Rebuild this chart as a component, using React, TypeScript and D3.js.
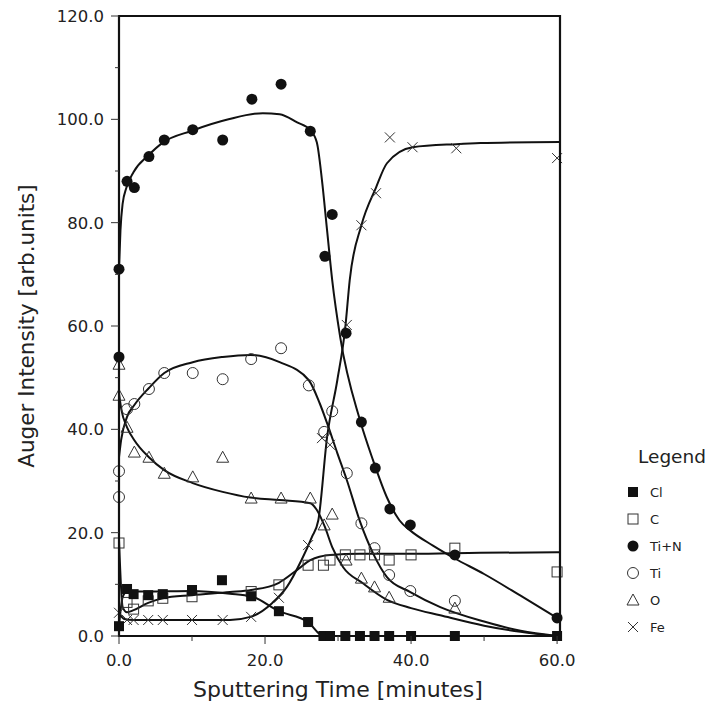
import React from 'react'
import * as d3 from 'd3'

// measured points [minutes, intensity]
const clPoints = [[0, 1.9], [1.1, 9.1], [2, 8.1], [4, 7.9], [6, 8.1], [10, 8.9], [14.1, 10.8], [18.1, 7.7], [21.9, 4.8], [25.9, 2.7], [28, 0], [28.9, 0], [31, 0], [33, 0], [35, 0], [37, 0], [40, 0], [46, 0], [60, 0]]
const cPoints = [[0, 18], [1.1, 6.5], [2, 5.2], [4, 6.8], [6, 7.3], [10, 7.6], [18.1, 8.6], [21.9, 9.9], [25.9, 13.7], [28, 13.7], [28.9, 14.7], [31, 15.7], [33, 15.7], [35, 15.7], [37, 14.7], [40, 15.7], [46, 17], [60, 12.4]]
const tinPoints = [[0, 71], [0, 54], [1.1, 88], [2.1, 86.8], [4.1, 92.8], [6.2, 96], [10.1, 98], [14.2, 96], [18.2, 103.9], [22.2, 106.8], [26.2, 97.7], [28.2, 73.5], [29.2, 81.6], [31.1, 58.6], [33.2, 41.4], [35.1, 32.5], [37.1, 24.6], [39.9, 21.5], [46, 15.7], [60, 3.5]]
const tiPoints = [[0, 31.9], [0, 26.9], [1.1, 43.9], [2.1, 44.9], [4.1, 47.8], [6.2, 50.9], [10.1, 50.9], [14.2, 49.7], [18.1, 53.6], [22.2, 55.7], [26, 48.5], [28.1, 39.5], [29.2, 43.5], [31.2, 31.5], [33.2, 21.8], [35, 17], [37, 11.8], [39.9, 8.7], [46, 6.8]]
const oPoints = [[0, 52.6], [0, 46.6], [1.1, 40.4], [2.1, 35.6], [4.1, 34.6], [6.2, 31.5], [10.1, 30.8], [14.2, 34.6], [18.1, 26.7], [22.2, 26.7], [26.2, 26.7], [28.1, 21.5], [29.2, 23.6], [31.1, 14.7], [33.2, 11.2], [35, 9.5], [37, 7.5], [46, 5.4]]
const fePoints = [[0, 4.5], [1.1, 3.1], [2, 3.1], [4, 3.1], [6, 3.1], [10, 3.1], [14.2, 3.1], [18.1, 3.7], [21.9, 7.4], [25.9, 17.6], [27.8, 38.3], [28.9, 37], [31.2, 60.2], [33.2, 79.5], [35.2, 85.7], [37.1, 96.5], [40.2, 94.6], [46.2, 94.4], [60, 92.5]]

// fitted curves
const clFit = [[0, 1.9], [0.5, 7.5], [1.1, 8.6], [4, 8.6], [10, 8.7], [15.2, 8.2], [18.1, 7.7], [21.9, 4.8], [25.9, 2.7], [28, 0], [60, 0]]
const cFit = [[0, 18.6], [0.5, 5.6], [1.1, 4.6], [2, 5], [4, 6.4], [6, 7.3], [10, 7.9], [15.2, 8.5], [18.1, 8.9], [21.9, 10.3], [24.4, 12.8], [26.2, 14.7], [28.9, 15.7], [33, 15.9], [40, 15.9], [49.5, 16.1], [60.4, 16.2]]
const tinFit = [[0, 71], [0.2, 78.5], [0.5, 83.7], [1, 86.7], [2, 89.8], [4, 93], [6, 95.5], [10, 97.8], [15, 100], [19.7, 101.2], [22, 101], [24.4, 99.4], [26.2, 97.9], [27.1, 95.5], [27.8, 88.2], [28.5, 78.5], [29.2, 68.9], [30.3, 57.8], [33, 41.8], [34.8, 34], [36.7, 26.8], [38.4, 22.4], [40, 20.3], [43, 17.5], [46, 15], [50, 12], [55, 7.8], [60, 3.5]]
const tiFit = [[0, 34.6], [0.3, 38], [1.1, 42.4], [2.1, 44.7], [4.1, 48], [6.2, 50.9], [10.1, 53], [14.2, 54], [18, 54.4], [22, 53], [26, 49.5], [27.5, 45], [28.5, 41.2], [29.9, 35.4], [31.2, 30.2], [33, 22.2], [34.8, 16], [36.7, 11.4], [39.9, 8.5], [44, 5.6], [50, 2.8], [55, 1], [60, 0]]
const oFit = [[0, 47], [0.3, 44], [1.1, 40.4], [2.1, 37.9], [4.1, 34.6], [6.2, 32.1], [10.1, 29.6], [14.2, 27.9], [18, 26.8], [22, 26.3], [26.2, 25.7], [27.1, 24.4], [28.2, 21.1], [29.2, 17.2], [30.7, 13.3], [33.4, 10.2], [36.7, 7], [40, 5.4], [44, 4], [50, 2], [55, 0.8], [60, 0]]
const feFit = [[0, 4.5], [0.7, 3.3], [2, 3.1], [10, 3.1], [15.2, 3.1], [18, 3.7], [21, 6.4], [23, 9.5], [25, 14.7], [26.4, 19.1], [27.3, 22.4], [28.5, 38.5], [29.9, 49.5], [31, 59.8], [31.6, 68.9], [33.2, 79.5], [35.2, 86.8], [36.7, 91.5], [40.2, 94.6], [46.2, 95.2], [49.5, 95.4], [60.4, 95.6]]

const legendLabels = ['Cl', 'C', 'Ti+N', 'Ti', 'O', 'Fe']
const xTicks = [0, 20, 40, 60]
const xMinor = [10, 30, 50]
const yTicks = [0, 20, 40, 60, 80, 100, 120]
const yMinor = [10, 30, 50, 70, 90, 110]

const FONT = '"DejaVu Sans", sans-serif'

const x = d3.scaleLinear().domain([0, 60.4]).range([119, 560])
const y = d3.scaleLinear().domain([0, 120]).range([636, 16])

const line = d3
  .line<number[]>()
  .x(d => x(d[0]))
  .y(d => y(d[1]))
  .curve(d3.curveMonotoneX)

function Marker({ kind, cx, cy }: { kind: string; cx: number; cy: number }) {
  if (kind === 'Cl') return <rect x={cx - 5} y={cy - 5} width={10} height={10} fill="#111" />
  if (kind === 'C') return <rect x={cx - 5} y={cy - 5} width={10} height={10} fill="none" stroke="#333" strokeWidth={1} />
  if (kind === 'Ti+N') return <circle cx={cx} cy={cy} r={5.5} fill="#111" />
  if (kind === 'Ti') return <circle cx={cx} cy={cy} r={5.5} fill="none" stroke="#333" strokeWidth={1} />
  if (kind === 'O')
    return <path d={`M${cx},${cy - 6}L${cx + 6},${cy + 5}L${cx - 6},${cy + 5}Z`} fill="none" stroke="#333" strokeWidth={1} />
  return <path d={`M${cx - 5},${cy - 5}L${cx + 5},${cy + 5}M${cx - 5},${cy + 5}L${cx + 5},${cy - 5}`} stroke="#333" strokeWidth={1} />
}

const series = [
  { name: 'Fe', pts: fePoints, fit: feFit },
  { name: 'O', pts: oPoints, fit: oFit },
  { name: 'Ti', pts: tiPoints, fit: tiFit },
  { name: 'C', pts: cPoints, fit: cFit },
  { name: 'Ti+N', pts: tinPoints, fit: tinFit },
  { name: 'Cl', pts: clPoints, fit: clFit },
]

export default function App() {
  return (
    <svg width={713} height={709} style={{ position: 'absolute', left: 0, top: 0, background: '#fff' }} fontFamily={FONT}>
      {series.map(s => (
        <path key={s.name} d={line(s.fit) || ''} fill="none" stroke="#111" strokeWidth={2} />
      ))}
      {series.map(s => (
        <g key={s.name}>
          {s.pts.map((p, i) => (
            <Marker key={i} kind={s.name} cx={x(p[0])} cy={y(p[1])} />
          ))}
        </g>
      ))}

      {/* frame */}
      <path d={`M${x(0)},${y(120)}H${x(60.4)}V${y(0)}H${x(0)}Z`} fill="none" stroke="#111" strokeWidth={2.2} />

      {/* y axis */}
      {yTicks.map(t => (
        <g key={t}>
          <line x1={x(0) - 8} x2={x(0)} y1={y(t)} y2={y(t)} stroke="#333" strokeWidth={1} />
          <text x={104} y={y(t)} dy="0.36em" textAnchor="end" fontSize={16.5} fill="#222">
            {t.toFixed(1)}
          </text>
        </g>
      ))}
      {yMinor.map(t => (
        <line key={t} x1={x(0) - 4} x2={x(0)} y1={y(t)} y2={y(t)} stroke="#333" strokeWidth={1} />
      ))}

      {/* x axis */}
      {xTicks.map(t => (
        <g key={t}>
          <line x1={x(t)} x2={x(t)} y1={y(0)} y2={y(0) + 8} stroke="#333" strokeWidth={1} />
          <text x={x(t)} y={666} textAnchor="middle" fontSize={16.5} fill="#222">
            {t.toFixed(1)}
          </text>
        </g>
      ))}
      {xMinor.map(t => (
        <line key={t} x1={x(t)} x2={x(t)} y1={y(0)} y2={y(0) + 5} stroke="#333" strokeWidth={1} />
      ))}

      <text x={338} y={697} textAnchor="middle" fontSize={22} fill="#222">
        Sputtering Time [minutes]
      </text>
      <text transform="translate(34,326) rotate(-90)" textAnchor="middle" fontSize={21.5} fill="#222">
        Auger Intensity [arb.units]
      </text>

      {/* legend */}
      <text x={672} y={463} textAnchor="middle" fontSize={18.5} fill="#222">
        Legend
      </text>
      {legendLabels.map((l, i) => (
        <g key={l}>
          <Marker kind={l} cx={633} cy={492 + i * 27} />
          <text x={650} y={492 + i * 27} dy="0.36em" fontSize={13} fill="#222">
            {l}
          </text>
        </g>
      ))}
    </svg>
  )
}
